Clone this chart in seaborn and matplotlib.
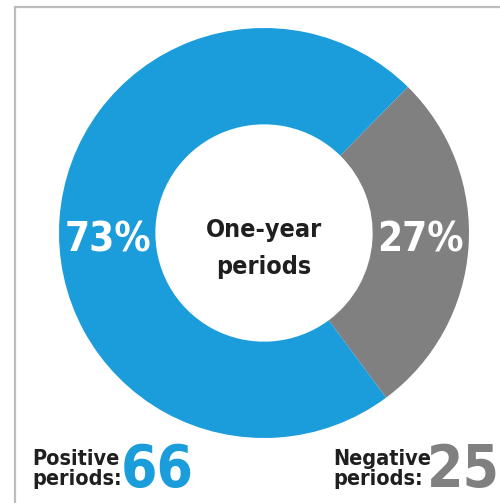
import matplotlib
matplotlib.use("Agg")
import matplotlib.pyplot as plt
from matplotlib.lines import Line2D
from matplotlib import font_manager as fm
import seaborn as sns

categories = ["Negative", "Positive"]
counts = [25, 66]
colors = ["#808080", "#1b9cdb"]
center_title = "One-year\nperiods"

sns.set_theme(style="white")
plt.rcParams["font.family"] = ["DejaVu Sans"]

# find a bold condensed / narrow font if installed
def pick_font():
    cands = []
    for f in fm.fontManager.ttflist:
        name = f.name.lower()
        fname = f.fname.lower()
        narrow = ("condensed" in name or "narrow" in name or "condensed" in fname
                  or "narrow" in fname or str(f.stretch) in ("condensed", "semi-condensed", "extra-condensed"))
        w = f.weight if isinstance(f.weight, int) else {"bold": 700}.get(str(f.weight), 400)
        bold = w >= 600 or "bold" in fname
        if narrow and bold and "italic" not in fname and "oblique" not in fname:
            cands.append(f.fname)
    pref = ["liberationsansnarrow-bold", "dejavusanscondensed-bold", "roboto", "opensans", "noto"]
    for p in pref:
        for c in cands:
            if p in c.lower().replace("_", "").replace(" ", ""):
                return c
    return cands[0] if cands else None

fpath = pick_font()
def fp(size):
    if fpath:
        return fm.FontProperties(fname=fpath, size=size)
    return fm.FontProperties(family="DejaVu Sans", weight="bold", stretch="condensed", size=size)

W, H = 500, 503
fig = plt.figure(figsize=(W / 100, H / 100), dpi=100)
fig.patch.set_facecolor("white")

cx, cy, R = 264, 233, 205
ax = fig.add_axes([(cx - R) / W, (H - cy - R) / H, 2 * R / W, 2 * R / H])

total = sum(counts)
neg_angle = counts[0] / total * 360
wedges, texts, autotexts = ax.pie(
    counts, colors=colors, startangle=-neg_angle / 2 - 4, counterclock=True,
    radius=1.0, wedgeprops=dict(width=0.47, edgecolor="none"),
    autopct=lambda p: f"{p:.0f}%", pctdistance=0.765,
    textprops=dict(color="white"),
)
for t in autotexts:
    t.set_fontproperties(fp(29))
    t.set_va("center")
    t.set_ha("center")
    x, _ = t.get_position()
    t.set_position((x, -0.035))
ax.set_xlim(-1, 1)
ax.set_ylim(-1, 1)
ax.set_aspect("equal")
ax.axis("off")

ax.text(0, -0.075, center_title, ha="center", va="center", fontproperties=fp(18),
        color="#1f1f1f", linespacing=1.65)

def fx(x):
    return x / W

def fy(y):
    return 1 - y / H

# bottom legends
fig.text(fx(32), fy(485), f"{categories[1]}\nperiods:", ha="left", va="baseline",
         fontproperties=fp(15.5), color="#1f1f1f", linespacing=1.0)
fig.text(fx(121), fy(487), f"{counts[1]}", ha="left", va="baseline",
         fontproperties=fp(42), color=colors[1])
fig.text(fx(333), fy(485), f"{categories[0]}\nperiods:", ha="left", va="baseline",
         fontproperties=fp(15.5), color="#1f1f1f", linespacing=1.0)
fig.text(fx(427), fy(487), f"{counts[0]}", ha="left", va="baseline",
         fontproperties=fp(42), color=colors[0])

# frame lines
fig.add_artist(Line2D([fx(15), fx(15)], [fy(7), 0], color="#bdbdbd", lw=1.6))
fig.add_artist(Line2D([fx(15), 1], [fy(7), fy(7)], color="#bdbdbd", lw=1.6))

fig.savefig("out.png", dpi=100, facecolor="white")
